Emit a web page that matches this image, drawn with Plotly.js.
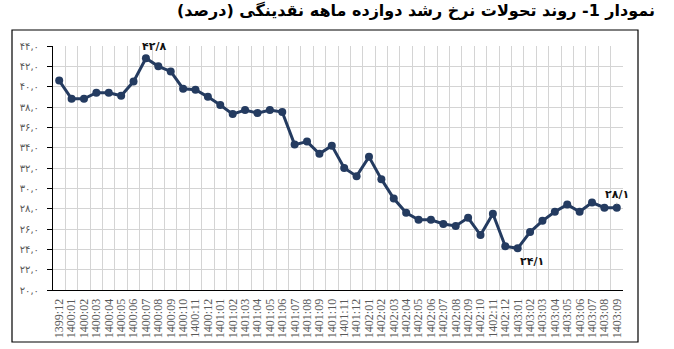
<!DOCTYPE html>
<html><head><meta charset="utf-8">
<script src="https://cdn.plot.ly/plotly-3.0.1.min.js"></script>
<style>html,body{margin:0;padding:0;background:#fff}#chart{width:674px;height:349px}</style>
</head><body><div id="chart"></div>
<script>
const categories = ["1399:12",
 "1400:01","1400:02","1400:03","1400:04","1400:05","1400:06","1400:07","1400:08","1400:09","1400:10","1400:11","1400:12",
 "1401:01","1401:02","1401:03","1401:04","1401:05","1401:06","1401:07","1401:08","1401:09","1401:10","1401:11","1401:12",
 "1402:01","1402:02","1402:03","1402:04","1402:05","1402:06","1402:07","1402:08","1402:09","1402:10","1402:11","1402:12",
 "1403:01","1403:02","1403:03","1403:04","1403:05","1403:06","1403:07","1403:08","1403:09"];
const growthRate = [40.6,
 38.8,38.8,39.4,39.4,39.1,40.5,42.8,42.0,41.5,39.8,39.7,39.0,
 38.2,37.3,37.7,37.4,37.7,37.5,34.3,34.6,33.4,34.2,32.0,31.2,
 33.1,30.9,29.0,27.6,26.9,26.9,26.5,26.3,27.1,25.4,27.5,24.3,
 24.1,25.7,26.8,27.7,28.4,27.7,28.6,28.1,28.1];
const yTickVals = [20,22,24,26,28,30,32,34,36,38,40,42,44];
const yTickText = ["۲۰,۰","۲۲,۰","۲۴,۰","۲۶,۰","۲۸,۰","۳۰,۰","۳۲,۰","۳۴,۰","۳۶,۰","۳۸,۰","۴۰,۰","۴۲,۰","۴۴,۰"];
const titleText = "نمودار 1- روند تحولات نرخ رشد دوازده ماهه نقدینگی (درصد)";
const labelPoints = [
  {cat: "1400:07", text: "۴۲/۸"},
  {cat: "1403:01", text: "۲۴/۱"},
  {cat: "1403:09", text: "۲۸/۱"}
];

function val(cat){ return growthRate[categories.indexOf(cat)]; }

const navy = "#243b60";
const trace = {
  type: "scatter", mode: "lines+markers",
  x: categories, y: growthRate,
  line: {color: navy, width: 3},
  marker: {color: navy, size: 8},
  hoverinfo: "skip"
};

const L = 53, R = 623, T = 46, B = 290;
const px = v => (v - L) / (R - L);
const py = v => (B - v) / (B - T);

const annFont = {family: "DejaVu Sans", size: 11, color: "#111"};
const annotations = [
  {xref: "paper", yref: "paper", x: px(657), y: py(10), xanchor: "right", yanchor: "middle",
   text: "<b>" + titleText + "</b>", showarrow: false,
   font: {family: "DejaVu Sans", size: 16, color: "#000"}},
  {x: labelPoints[0].cat, y: val(labelPoints[0].cat), text: "<b>" + labelPoints[0].text + "</b>",
   showarrow: false, xshift: 8, yshift: 12, font: annFont},
  {x: labelPoints[1].cat, y: val(labelPoints[1].cat), text: "<b>" + labelPoints[1].text + "</b>",
   showarrow: false, xshift: 14, yshift: -13, font: annFont},
  {x: labelPoints[2].cat, y: val(labelPoints[2].cat), text: "<b>" + labelPoints[2].text + "</b>",
   showarrow: true, arrowhead: 0, arrowwidth: 0.6, arrowcolor: "#999", ax: 0, ay: -13, standoff: 3,
   font: annFont}
];

const layout = {
  width: 674, height: 349,
  margin: {l: L, r: 674 - R, t: T, b: 349 - B, pad: 0},
  paper_bgcolor: "#fff", plot_bgcolor: "#fff",
  showlegend: false,
  xaxis: {
    type: "category", range: [-0.5, categories.length - 0.5],
    tickmode: "linear", tick0: 0, dtick: 1,
    tickangle: -90, tickson: "boundaries", ticks: "",
    showgrid: true, gridcolor: "#d4d4d4", gridwidth: 1,
    showline: true, linecolor: "#000", linewidth: 1,
    tickfont: {family: "Liberation Serif", size: 12, color: "#595959"},
    ticklabelstandoff: 3,
    zeroline: false, fixedrange: true
  },
  yaxis: {
    range: [20, 44], tickvals: yTickVals, ticktext: yTickText,
    ticks: "outside", ticklen: 5, tickcolor: "#000", ticklabelstandoff: 6,
    showgrid: true, gridcolor: "#d4d4d4", gridwidth: 1,
    showline: true, linecolor: "#000", linewidth: 1,
    tickfont: {family: "DejaVu Sans", size: 10, color: "#595959"},
    zeroline: false, fixedrange: true
  },
  shapes: [
    {type: "rect", xref: "paper", yref: "paper",
     x0: px(12), x1: px(638), y0: py(342), y1: py(30),
     line: {color: "#000", width: 1.2}, fillcolor: "rgba(0,0,0,0)", layer: "below"}
  ],
  annotations: annotations
};

Plotly.newPlot("chart", [trace], layout, {staticPlot: true, displayModeBar: false});
</script></body></html>
